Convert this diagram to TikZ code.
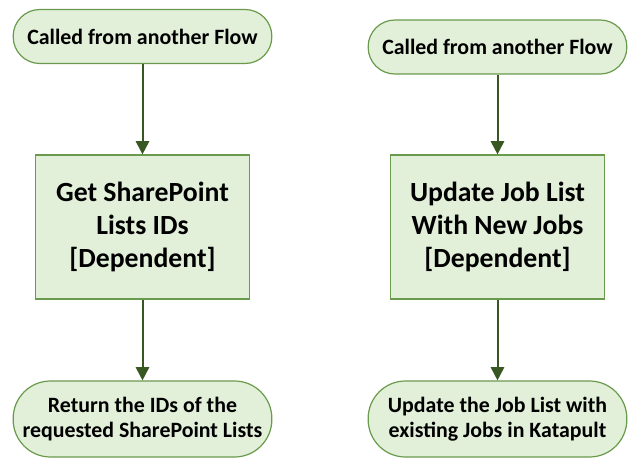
\documentclass[tikz,border=0pt]{standalone}
\usepackage{fontspec}
\setmainfont{Carlito}
\usepackage{xcolor}
\usetikzlibrary{arrows.meta}
\definecolor{boxfill}{HTML}{E2EFD9}
\definecolor{boxline}{HTML}{6A9A4B}
\definecolor{flowarrow}{HTML}{385723}

\begin{document}
\begin{tikzpicture}[%
	x=0.75pt,y=-0.75pt,
	terminal/.style={draw=boxline, fill=boxfill, line width=0.9pt, align=center,
		minimum width=194pt, minimum height=40.5pt, rounded corners=20pt, inner sep=0pt,
		font=\bfseries\fontsize{16.4}{19}\selectfont},
	endterminal/.style={terminal, minimum height=57pt, rounded corners=28pt},
	process/.style={draw=boxline, fill=boxfill, line width=0.9pt, align=center,
		minimum width=161pt, minimum height=108pt, inner sep=0pt,
		font=\bfseries\fontsize{20.8}{24.5}\selectfont},
	flow/.style={draw=flowarrow, line width=1.5pt, -{Triangle[width=10pt,length=10pt]}}]
	\useasboundingbox (0,0) rectangle (637,468);
	\node[terminal] (callGet) at (142.5,36.5) {Called from another Flow};
	\node[process] (getIDs) at (142.5,227) {Get SharePoint\\Lists IDs\\{[Dependent]}};
	\node[endterminal] (returnIDs) at (142.5,419) {Return the IDs of the\\requested SharePoint Lists};
	\node[terminal] (callUpdate) at (497.5,47) {Called from another Flow};
	\node[process] (updateJobs) at (497.5,227) {Update Job List\\With New Jobs\\{[Dependent]}};
	\node[endterminal] (returnJobs) at (497.5,419) {Update the Job List with\\existing Jobs in Katapult};
	\draw[flow] (callGet) -- (getIDs);
	\draw[flow] (getIDs) -- (returnIDs);
	\draw[flow] (callUpdate) -- (updateJobs);
	\draw[flow] (updateJobs) -- (returnJobs);
\end{tikzpicture}
\end{document}
